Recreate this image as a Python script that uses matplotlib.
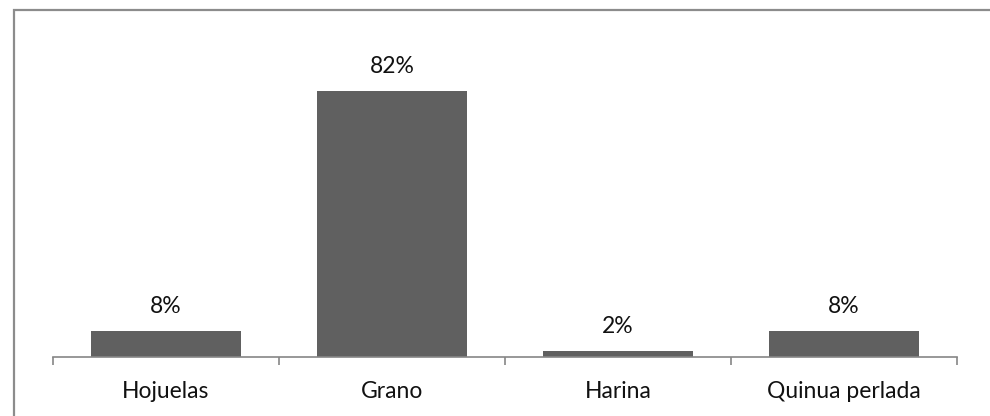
import matplotlib
matplotlib.use("Agg")
import matplotlib.pyplot as plt
from matplotlib.patches import Rectangle
import numpy as np

categories = ["Hojuelas", "Grano", "Harina", "Quinua perlada"]
shares = [0.08, 0.82, 0.02, 0.08]
value_labels = ["8%", "82%", "2%", "8%"]

plt.rcParams.update({
    "font.family": ["Lato", "DejaVu Sans"],
    "font.size": 16.5,
})

BAR_COLOR = "#606060"
AXIS_COLOR = "#868686"
TEXT_COLOR = "#111111"

fig = plt.figure(figsize=(9.9, 4.16), dpi=100)
ax = fig.add_axes([53 / 990, 59 / 416, 904 / 990, 324 / 416])

x = np.arange(len(categories))
bars = ax.bar(x, shares, width=0.665, color=BAR_COLOR, zorder=2)
ax.bar_label(bars, labels=value_labels, padding=10, fontsize=16.5, color=TEXT_COLOR)

ax.set_xlim(-0.5, len(categories) - 0.5)
ax.set_ylim(0, 1.0)

# solo el eje x, estilo Excel
for side in ("left", "right", "top"):
    ax.spines[side].set_visible(False)
ax.spines["bottom"].set_color(AXIS_COLOR)
ax.spines["bottom"].set_linewidth(1.2)
ax.set_yticks([])

ax.set_xticks(x)
ax.set_xticklabels(categories)
ax.set_xticks(np.arange(len(categories) + 1) - 0.5, minor=True)
ax.tick_params(axis="x", which="major", length=0, pad=17, labelsize=16.5, labelcolor=TEXT_COLOR)
ax.tick_params(axis="x", which="minor", length=6, width=1.2, color=AXIS_COLOR, direction="out")

# marco del gráfico
fig.patches.append(Rectangle((14 / 990, -0.1), 1.2, (416 - 10) / 416 + 0.1,
                             transform=fig.transFigure, fill=False,
                             edgecolor="#8c8c8c", linewidth=1.6))

fig.savefig("out.png", dpi=100)
